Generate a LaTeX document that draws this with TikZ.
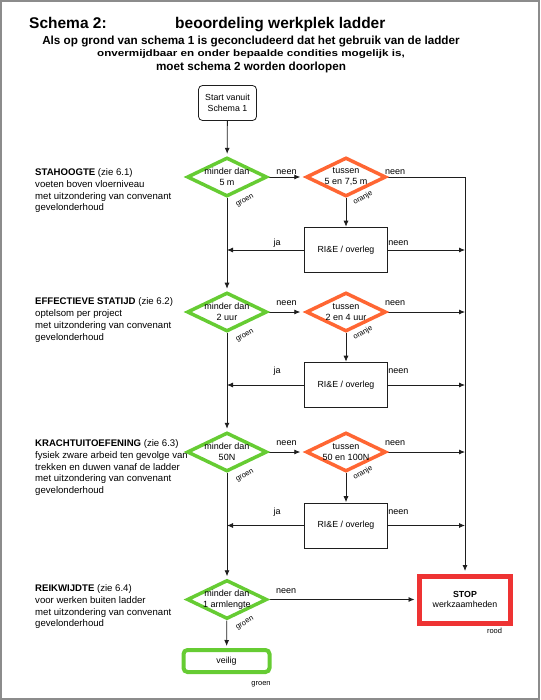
\documentclass[tikz,border=0pt]{standalone}
\usepackage{fontspec}
\setmainfont{Liberation Sans}
\newfontfamily\widefont[FakeStretch=1.24]{Liberation Sans}
\usetikzlibrary{arrows.meta,shapes.geometric,backgrounds}
\definecolor{frame}{HTML}{8C8C8C}
\definecolor{linedark}{HTML}{1E1E1E}
\definecolor{groen}{HTML}{66CC33}
\definecolor{oranje}{HTML}{FF6633}
\definecolor{rood}{HTML}{EE3333}

\begin{document}
\begin{tikzpicture}[x=1pt,y=-1pt,
  dia/.style={diamond,draw=#1,line width=3.5pt,fill=white,minimum width=80pt,minimum height=39pt,inner sep=0pt},
  dtxt/.style={align=center,inner sep=0pt,font=\fontsize{9}{11}\selectfont},
  rbox/.style={rectangle,draw=linedark,line width=0.8pt,fill=white,minimum width=83pt,minimum height=45pt,font=\fontsize{8.8}{10.5}\selectfont},
  startbox/.style={rbox,rounded corners=4pt,minimum width=58pt,minimum height=35pt,align=center},
  endbox/.style={rectangle,draw=#1,fill=white,align=center,font=\fontsize{8.8}{10.5}\selectfont},
  sidetext/.style={anchor=north west,align=left,inner sep=0pt,font=\fontsize{9.6}{11.7}\selectfont},
  lbl/.style={anchor=base,inner sep=0pt,font=\fontsize{9}{11}\selectfont},
  tag/.style={inner sep=0pt,font=\fontsize{7.5}{9}\selectfont},
  arr/.style={-{Latex[length=6pt,width=5pt]},line width=0.8pt,draw=linedark}
]
\useasboundingbox (0,0) rectangle (540,700);
\draw[frame,line width=1.2pt] (1,1) rectangle (539,699);

% titel
\node[anchor=base west,inner sep=0pt,font=\fontsize{15.5}{18}\selectfont\bfseries] (title) at (29,29) {Schema 2:};
\node[anchor=base west,inner sep=0pt,font=\fontsize{15.5}{18}\selectfont\bfseries] (subject) at (175,29) {beoordeling werkplek ladder};
\node[anchor=base,inner sep=0pt,font=\fontsize{11.7}{14}\selectfont\bfseries] (intro1) at (251,45) {Als op grond van schema 1 is geconcludeerd dat het gebruik van de ladder};
\node[anchor=base,inner sep=0pt,font=\widefont\fontsize{9.4}{11}\selectfont\bfseries] (intro2) at (251,57) {onvermijdbaar en onder bepaalde condities mogelijk is,};
\node[anchor=base,inner sep=0pt,font=\fontsize{11.7}{14}\selectfont\bfseries] (intro3) at (251,70.5) {moet schema 2 worden doorlopen};

% criteria links
\node[sidetext] (crit1) at (35,168.5) {\textbf{STAHOOGTE} (zie 6.1)\\voeten boven vloerniveau\\met uitzondering van convenant\\gevelonderhoud};
\node[sidetext] (crit2) at (35,297.8) {\textbf{EFFECTIEVE STATIJD} (zie 6.2)\\optelsom per project\\met uitzondering van convenant\\gevelonderhoud};
\node[sidetext] (crit3) at (35,439.5) {\textbf{KRACHTUITOEFENING} (zie 6.3)\\fysiek zware arbeid ten gevolge van\\trekken en duwen vanaf de ladder\\met uitzondering van convenant\\gevelonderhoud};
\node[sidetext] (crit4) at (35,584.5) {\textbf{REIKWIJDTE} (zie 6.4)\\voor werken buiten ladder\\met uitzondering van convenant\\gevelonderhoud};

% stroomschema
\node[startbox] (start) at (227.5,103) {Start vanuit\\Schema 1};

\node[dia=groen] (d1) at (227,177) {};
\node[dtxt] (d1t) at (d1) {minder dan\\5 m};
\node[dia=oranje] (o1) at (346,177) {};
\node[dtxt] (o1t) at (o1) {tussen\\5 en 7,5 m};
\node[rbox] (rie1) at (346,250) {RI\&E / overleg};

\node[dia=groen] (d2) at (227,312) {};
\node[dtxt] (d2t) at (d2) {minder dan\\2 uur};
\node[dia=oranje] (o2) at (346,312) {};
\node[dtxt] (o2t) at (o2) {tussen\\2 en 4 uur};
\node[rbox] (rie2) at (346,385) {RI\&E / overleg};

\node[dia=groen] (d3) at (227,452) {};
\node[dtxt] (d3t) at (d3) {minder dan\\50N};
\node[dia=oranje] (o3) at (346,452) {};
\node[dtxt] (o3t) at (o3) {tussen\\50 en 100N};
\node[rbox] (rie3) at (346,525.5) {RI\&E / overleg};

\node[dia=groen] (d4) at (227,599.5) {};
\node[dtxt] (d4t) at (d4) {minder dan\\1 armlengte};

\node[endbox=rood,line width=5pt,minimum width=91pt,minimum height=47pt] (stop) at (465,599.5) {\textbf{STOP}\\werkzaamheden};
\node[endbox=groen,line width=4pt,rounded corners=4pt,minimum width=86pt,minimum height=22pt] (veilig) at (226.5,661) {veilig};

% kleurcodes
\node[tag,rotate=30] (d1g) at ([shift={(18,24)}]d1) {groen};
\node[tag,rotate=30] (o1g) at ([shift={(17,21)}]o1) {oranje};
\node[tag,rotate=30] (d2g) at ([shift={(18,24)}]d2) {groen};
\node[tag,rotate=30] (o2g) at ([shift={(17,21)}]o2) {oranje};
\node[tag,rotate=30] (d3g) at ([shift={(18,24)}]d3) {groen};
\node[tag,rotate=30] (o3g) at ([shift={(17,21)}]o3) {oranje};
\node[tag,rotate=30] (d4g) at ([shift={(18,24)}]d4) {groen};
\node[tag] (stopg) at ([shift={(29.5,31)}]stop) {rood};
\node[tag] (veiligg) at ([shift={(34.5,23)}]veilig) {groen};

\begin{scope}[on background layer]
  \draw[arr,shorten >=2pt] (start) -- (d1);
  \draw[arr,shorten >=4pt] (d1) -- node[lbl,yshift=2pt]{neen} (o1);
  \draw[arr,shorten >=2.5pt] (o1.east) -- node[lbl,anchor=base west,pos=0,xshift=-3pt,yshift=2pt]{neen} (o1.east -| stop.north) -- (stop.north);
  \draw[arr,shorten >=0.4pt] (o1) -- (rie1);
  \draw[arr] (rie1.west) -- node[lbl,pos=0.35,yshift=5pt]{ja} (rie1.west -| d1);
  \draw[arr] (rie1.east) -- node[lbl,anchor=base west,pos=0,yshift=5pt]{neen} (rie1.east -| stop);
  \draw[arr,shorten >=2pt] (d1) -- (d2);

  \draw[arr,shorten >=4pt] (d2) -- node[lbl,yshift=6.5pt]{neen} (o2);
  \draw[arr] (o2.east) -- node[lbl,anchor=base west,pos=0,xshift=-3pt,yshift=6.5pt]{neen} (o2.east -| stop);
  \draw[arr,shorten >=0.4pt] (o2) -- (rie2);
  \draw[arr] (rie2.west) -- node[lbl,pos=0.35,yshift=11.5pt]{ja} (rie2.west -| d2);
  \draw[arr] (rie2.east) -- node[lbl,anchor=base west,pos=0,yshift=11.5pt]{neen} (rie2.east -| stop);
  \draw[arr,shorten >=2pt] (d2) -- (d3);

  \draw[arr,shorten >=4pt] (d3) -- node[lbl,yshift=6.5pt]{neen} (o3);
  \draw[arr] (o3.east) -- node[lbl,anchor=base west,pos=0,xshift=-3pt,yshift=6.5pt]{neen} (o3.east -| stop);
  \draw[arr,shorten >=0.4pt] (o3) -- (rie3);
  \draw[arr] (rie3.west) -- node[lbl,pos=0.35,yshift=11.5pt]{ja} (rie3.west -| d3);
  \draw[arr] (rie3.east) -- node[lbl,anchor=base west,pos=0,yshift=11.5pt]{neen} (rie3.east -| stop);
  \draw[arr,shorten >=2pt] (d3) -- (d4);

  \draw[arr,shorten >=2.5pt] (d4) -- node[lbl,anchor=base west,pos=0,xshift=7pt,yshift=6.5pt]{neen} (stop);
  \draw[arr,shorten >=2pt] (d4) -- (veilig);
\end{scope}
\end{tikzpicture}
\end{document}
